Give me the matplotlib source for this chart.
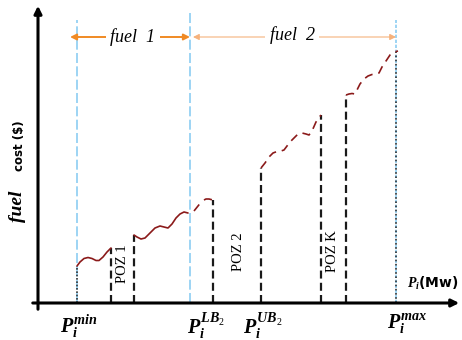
import matplotlib
matplotlib.use("Agg")
import matplotlib.pyplot as plt

plt.rcParams['mathtext.fontset'] = 'custom'
plt.rcParams['mathtext.it'] = 'Liberation Serif:italic:bold'
plt.rcParams['mathtext.rm'] = 'Liberation Serif'
plt.rcParams['mathtext.bf'] = 'Liberation Serif:bold'

# ---------------- data (power in MW-like units, cost in $-like units) -------------
P_MIN = 39
P_SWITCH = 152          # fuel-change boundary
P_LB2 = 175
P_UB2 = 223
P_MAX = 358
POZ1 = (73, 96)
POZK = (283, 308)

seg1_p = [39, 42, 46, 50, 54, 58, 61, 65, 69, 73]
seg1_c = [37, 41, 44.5, 45.5, 44.5, 42.5, 42.5, 46, 51, 55]

seg2_p = [96, 99, 103, 107, 112, 117, 122, 126, 130, 134, 138, 142, 146, 150]
seg2_c = [68, 66, 64, 65, 70, 75, 77, 76, 75, 79, 85, 89, 91, 90]

seg2b_p = [156, 160, 164, 168, 171, 175]
seg2b_c = [92, 97, 102, 104, 104, 103]

seg3_p = [223, 227, 231, 235, 239, 243, 246, 249, 252, 256, 260, 264, 268, 271, 274, 278, 283]
seg3_c = [135, 140, 146, 150, 151.5, 152, 153, 157, 161, 165, 169, 170, 169, 168, 172, 181, 188]

seg4_p = [308, 311, 314, 317, 319, 322, 326, 330, 334, 338, 341, 344, 348, 352, 356, 360]
seg4_c = [208, 209, 209.5, 209, 213, 219, 224, 227, 228.5, 229, 230, 236, 242, 248, 251, 252]

poz_lines_p = [POZ1[0], POZ1[1], P_LB2, P_UB2, POZK[0], POZK[1]]
poz_lines_top = [55, 68, 103, 135, 188, 208]

poz_labels = ["POZ 1", "POZ 2", "POZ K"]
poz_label_p = [84, 200, 295]
poz_label_c = [39, 51, 52]

tick_labels = [r"$P_i^{min}$", r"$P_i^{LB_2}$", r"$P_i^{UB_2}$", r"$P_i^{max}$"]
tick_label_p = [22, 149, 205, 349]

fuel_arrow_c = 266
# ------------------------------------------------------------------------------

fig = plt.figure(figsize=(4.62, 3.40), dpi=100)
ax = fig.add_axes([0, 0, 1, 1])
ax.set_xlim(-38, 424)
ax.set_ylim(-37, 303)
ax.axis('off')

blue = '#8ccdf2'
curve = '#8b1a1a'
orange = '#f08a24'

# axes with arrows
ax.annotate('', xy=(0, 300), xytext=(0, -9),
            arrowprops=dict(arrowstyle='-|>', color='black', lw=2.2, mutation_scale=11))
ax.annotate('', xy=(424, 0), xytext=(-8, 0),
            arrowprops=dict(arrowstyle='-|>', color='black', lw=2.2, mutation_scale=11))

# blue boundary lines
ax.plot([P_MIN, P_MIN], [0, 283], color=blue, lw=1.2, ls=(0, (6, 2)))
ax.plot([P_SWITCH, P_SWITCH], [0, 290], color=blue, lw=1.2, ls=(0, (6, 2)))
ax.plot([P_MAX, P_MAX], [0, 283], color=blue, lw=1.2, ls=(0, (2, 1)))

# black dotted
ax.plot([P_MIN, P_MIN], [0, seg1_c[0]], color='#333333', lw=1.2, ls=(0, (1, 1)))
ax.plot([P_MAX, P_MAX], [0, seg4_c[-2]], color='#333333', lw=1.2, ls=(0, (1, 1.5)))

# POZ dashed lines
for p, top in zip(poz_lines_p, poz_lines_top):
    ax.plot([p, p], [0, top], color='#1a1a1a', lw=1.6, ls=(0, (3.6, 1.9)))

# cost curve segments
ax.plot(seg1_p, seg1_c, color=curve, lw=1.2, solid_capstyle='round')
ax.plot(seg2_p, seg2_c, color=curve, lw=1.2, solid_capstyle='round')
ax.plot(seg2b_p, seg2b_c, color=curve, lw=1.2, ls=(0, (5, 4)))
ax.plot(seg3_p, seg3_c, color=curve, lw=1.2, ls=(0, (5, 3.5)))
ax.plot(seg4_p, seg4_c, color=curve, lw=1.2, ls=(0, (5, 3.5)))

# fuel arrows
ax.annotate('', xy=(32, fuel_arrow_c), xytext=(P_SWITCH, fuel_arrow_c),
            arrowprops=dict(arrowstyle='<|-|>', color=orange, lw=1.4, mutation_scale=9,
                            shrinkA=0, shrinkB=0))
ax.annotate('', xy=(P_SWITCH + 3, fuel_arrow_c), xytext=(P_MAX, fuel_arrow_c),
            arrowprops=dict(arrowstyle='<|-|>', color='#f6b27c', lw=0.8, mutation_scale=9,
                            shrinkA=0, shrinkB=0))
ax.text(95, fuel_arrow_c, r"fuel  1", family='Liberation Serif', style='italic', fontsize=13,
        ha='center', va='center',
        bbox=dict(boxstyle='square,pad=0.25', fc='white', ec='none'))
ax.text(254, fuel_arrow_c + 2, r"fuel  2", family='Liberation Serif', style='italic', fontsize=13,
        ha='center', va='center',
        bbox=dict(boxstyle='square,pad=0.25', fc='white', ec='none'))

# y label
ax.text(-21, 97, "fuel", family='Liberation Serif', style='italic', fontweight='bold',
        fontsize=14, rotation=90, ha='center', va='center')
ax.text(-19, 157, "cost ($)", family='DejaVu Sans', fontweight='bold',
        fontsize=8.5, rotation=90, ha='center', va='center')

# POZ labels
for lab, p, c in zip(poz_labels, poz_label_p, poz_label_c):
    ax.text(p, c, lab, family='Liberation Serif', fontsize=10.5, rotation=90,
            ha='center', va='center')

# tick labels
for lab, p in zip(tick_labels, tick_label_p):
    ax.text(p, -9, lab, fontsize=14.5, ha='left', va='top')

ax.text(369, 20, r"$P_i$(Mw)", family='DejaVu Sans', fontweight='bold', fontsize=10,
        ha='left', va='center')

fig.savefig('out.png', dpi=100)
